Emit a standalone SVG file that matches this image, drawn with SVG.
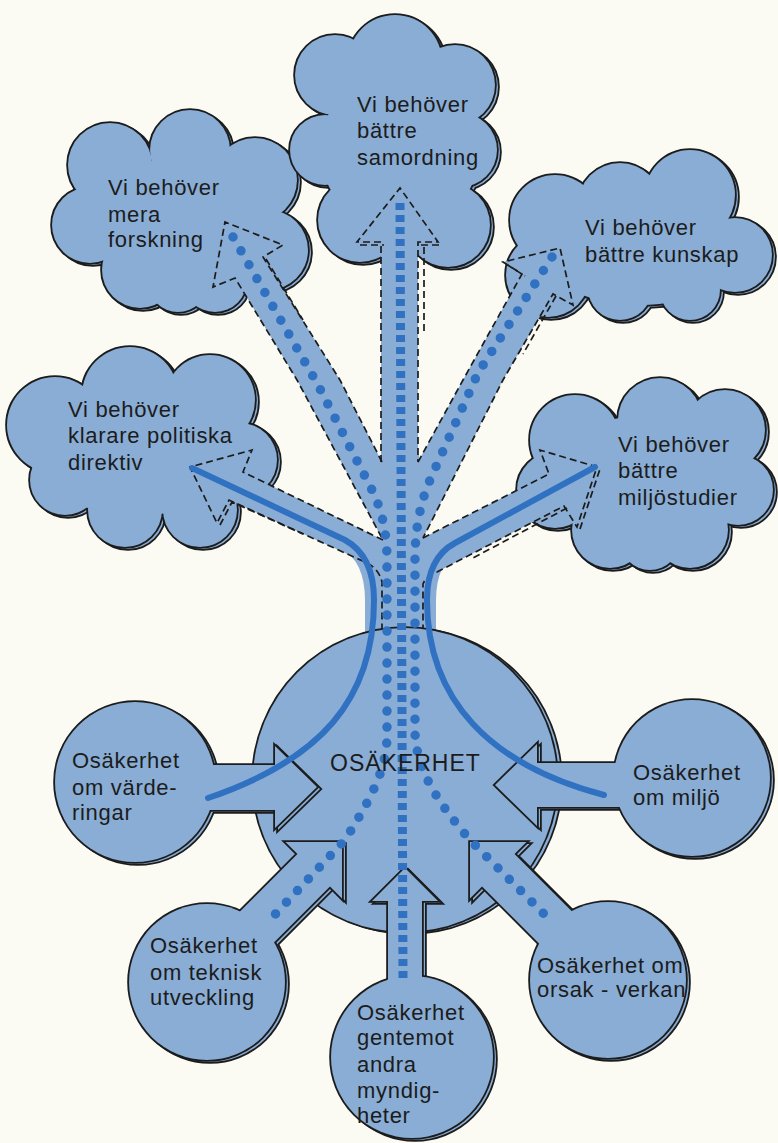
<svg xmlns="http://www.w3.org/2000/svg" width="778" height="1143" viewBox="0 0 778 1143">
<style>
  .ol{fill:#89add5;stroke:#1c1c1c;stroke-width:3.6;stroke-linejoin:miter}
  .fl{fill:#89add5;stroke:none}
  .band{fill:#89add5;stroke:none}
  .dash{fill:none;stroke:#1c1c1c;stroke-width:1.7;stroke-dasharray:7 4}
  .halo{fill:none;stroke:#89add5;stroke-width:18}
  .line{fill:none;stroke:#3171c2;stroke-width:6;stroke-linecap:round}
  .dots{fill:none;stroke:#3171c2;stroke-width:9.5;stroke-linecap:round;stroke-dasharray:0 16}
  .sq{fill:none;stroke:#3171c2;stroke-width:9;stroke-dasharray:7 5}
  text{font-family:"Liberation Sans",Arial,sans-serif;font-size:22px;fill:#1c1c1c;letter-spacing:0.7px}
  .big{font-size:23px;letter-spacing:1px}
</style>
<defs>
  <!-- cloud outlines: unions of lobes -->
  <g id="s-samordning">
    <circle cx="335" cy="75" r="40"/><circle cx="395" cy="62" r="47"/><circle cx="455" cy="85" r="40"/>
    <circle cx="460" cy="150" r="37"/><circle cx="448" cy="225" r="42"/><circle cx="360" cy="220" r="42"/>
    <circle cx="325" cy="150" r="35"/><ellipse cx="400" cy="150" rx="80" ry="80"/>
  </g>
  <g id="s-forskning">
    <circle cx="110" cy="165" r="42"/><circle cx="190" cy="150" r="40"/><circle cx="255" cy="180" r="42"/>
    <circle cx="268" cy="250" r="40"/><circle cx="215" cy="280" r="32"/><circle cx="178" cy="282" r="30"/>
    <circle cx="140" cy="270" r="38"/><circle cx="90" cy="225" r="38"/><ellipse cx="180" cy="220" rx="95" ry="62"/>
  </g>
  <g id="s-kunskap">
    <circle cx="555" cy="220" r="45"/><circle cx="620" cy="205" r="42"/><circle cx="690" cy="195" r="45"/>
    <circle cx="735" cy="255" r="37"/><circle cx="690" cy="290" r="30"/><circle cx="620" cy="288" r="32"/>
    <circle cx="548" cy="275" r="42"/><ellipse cx="640" cy="250" rx="100" ry="55"/>
  </g>
  <g id="s-politiska">
    <circle cx="55" cy="425" r="48"/><circle cx="130" cy="395" r="48"/><circle cx="210" cy="400" r="45"/>
    <circle cx="240" cy="460" r="37"/><circle cx="200" cy="510" r="37"/><circle cx="125" cy="510" r="37"/>
    <circle cx="65" cy="480" r="35"/><ellipse cx="140" cy="455" rx="110" ry="60"/>
  </g>
  <g id="s-miljostudier">
    <circle cx="575" cy="440" r="45"/><circle cx="660" cy="420" r="42"/><circle cx="725" cy="430" r="40"/>
    <circle cx="738" cy="490" r="35"/><circle cx="690" cy="530" r="38"/><circle cx="650" cy="540" r="30"/>
    <circle cx="610" cy="530" r="38"/><circle cx="555" cy="490" r="38"/><ellipse cx="650" cy="475" rx="100" ry="60"/>
  </g>
  <!-- round nodes with their inward arrows -->
  <g id="s-center"><circle cx="405" cy="780" r="152"/></g>
  <g id="s-vard">
    <circle cx="135" cy="782" r="80"/>
    <path d="M317,787 L275,746 L275,765 L170,765 L170,810 L275,810 L275,828 Z"/>
  </g>
  <g id="s-miljo">
    <circle cx="692" cy="778" r="78"/>
    <path d="M495,785 L537,744 L537,763 L650,763 L650,807 L537,807 L537,826 Z"/>
  </g>
  <g id="s-teknisk">
    <circle cx="207" cy="982" r="78"/>
    <path transform="translate(342,842) rotate(-45)" d="M0,0 L-40,-40 L-40,-23 L-150,-23 L-150,23 L-40,23 L-40,40 Z"/>
  </g>
  <g id="s-orsak">
    <circle cx="608" cy="980" r="78"/>
    <path transform="translate(470,842) rotate(-135)" d="M0,0 L-40,-40 L-40,-23 L-150,-23 L-150,23 L-40,23 L-40,40 Z"/>
  </g>
  <g id="s-gentemot">
    <circle cx="412" cy="1057" r="81"/>
    <path transform="translate(405,868) rotate(-90)" d="M0,0 L-33,-33 L-33,-17 L-125,-17 L-125,17 L-33,17 L-33,33 Z"/>
  </g>
</defs>

<rect width="778" height="1143" fill="#fbfaf3"/>

<g id="cloud-forskning">
  <use href="#s-forskning" class="ol" transform="translate(3,2)"/><use href="#s-forskning" class="fl" transform="translate(3,2)"/>
  <use href="#s-forskning" class="ol"/><use href="#s-forskning" class="fl"/>
  <text x="108" y="195">Vi behöver</text><text x="108" y="222">mera</text><text x="108" y="247">forskning</text>
</g>
<g id="cloud-samordning">
  <use href="#s-samordning" class="ol" transform="translate(3,2)"/><use href="#s-samordning" class="fl" transform="translate(3,2)"/>
  <use href="#s-samordning" class="ol"/><use href="#s-samordning" class="fl"/>
  <text x="357" y="112">Vi behöver</text><text x="357" y="138">bättre</text><text x="357" y="165">samordning</text>
</g>
<g id="cloud-kunskap">
  <use href="#s-kunskap" class="ol" transform="translate(3,2)"/><use href="#s-kunskap" class="fl" transform="translate(3,2)"/>
  <use href="#s-kunskap" class="ol"/><use href="#s-kunskap" class="fl"/>
  <text x="585" y="235">Vi behöver</text><text x="585" y="262">bättre kunskap</text>
</g>
<g id="cloud-politiska">
  <use href="#s-politiska" class="ol" transform="translate(3,2)"/><use href="#s-politiska" class="fl" transform="translate(3,2)"/>
  <use href="#s-politiska" class="ol"/><use href="#s-politiska" class="fl"/>
  <text x="68" y="417">Vi behöver</text><text x="68" y="443">klarare politiska</text><text x="68" y="470">direktiv</text>
</g>
<g id="cloud-miljostudier">
  <use href="#s-miljostudier" class="ol" transform="translate(3,2)"/><use href="#s-miljostudier" class="fl" transform="translate(3,2)"/>
  <use href="#s-miljostudier" class="ol"/><use href="#s-miljostudier" class="fl"/>
  <text x="618" y="452">Vi behöver</text><text x="618" y="478">bättre</text><text x="618" y="505">miljöstudier</text>
</g>

<!-- branching arrows: filled bands, halos and dashed outlines -->
<g id="connectors-branches">
  <path class="band" d="M381,470 V242 H357 L400,188 L438,242 H418 V470 Z"/>
  <path class="band" d="M382,462 L340,380 L263,257 L283,245 L225,222 L213,287 L235,278 L297,380 L383,540 L400,520 Z"/>
  <path class="band" d="M418,462 L463,380 L522,274 L503,262 L560,248 L573,305 L553,294 L503,380 L423,538 L400,520 Z"/>
  <path class="band" d="M383,540 L243,472 L252,450 L190,467 L217,523 L229,500 L367,563 Q379,569 382,582 L400,582 L400,535 Z"/>
  <path class="band" d="M423,538 L549,474 L540,450 L597,467 L577,527 L564,506 L437,572 Q426,576 423,584 L400,584 L400,535 Z"/>
  <!-- junction where the five branches meet the trunk -->
  <path class="band" d="M381,455 H419 L423,538 L437,572 L423,584 V634 H382 V582 L367,563 L383,540 Z"/>
  <path class="halo" d="M192,468 L345,540 Q374,556 374,600 V634"/>
  <path class="halo" d="M595,467 L455,543 Q427,558 427,600 V634"/>
  <path class="dash" d="M381,462 V242 H357 L400,188 L438,242 H418 V462"/>
  <path class="dash" d="M382,462 L340,380 L263,257 L283,245 L225,222 L213,287 L235,278 L297,380 L383,540"/>
  <path class="dash" d="M418,462 L463,380 L522,274 L503,262 L560,248 L573,305 L553,294 L503,380 L423,538"/>
  <path class="dash" d="M383,540 L243,472 L252,450 L190,467 L217,523 L229,500 L367,563 Q379,569 382,582 V630"/>
  <path class="dash" d="M423,538 L549,474 L540,450 L597,467 L577,527 L564,506 L437,572 Q426,576 423,584 V630"/>
  <g transform="translate(3,2)">
    <path class="dash" d="M263,257 L300,318"/>
    <path class="dash" d="M357,243 H381 M418,243 H438 M421,245 V330"/>
    <path class="dash" d="M553,294 L520,352 M503,262 L522,274"/>
    <path class="dash" d="M217,523 L229,500 L300,532"/>
    <path class="dash" d="M577,527 L597,467 M564,506 L470,556"/>
  </g>
</g>

<g id="node-osakerhet">
  <use href="#s-center" class="ol" transform="translate(4,1)"/><use href="#s-center" class="fl" transform="translate(4,1)"/>
  <use href="#s-center" class="ol"/><use href="#s-center" class="fl"/>
</g>
<g id="node-varderingar">
  <use href="#s-vard" class="ol" transform="translate(3,2)"/><use href="#s-vard" class="fl" transform="translate(3,2)"/>
  <use href="#s-vard" class="ol"/><use href="#s-vard" class="fl"/>
  <text x="72" y="768">Osäkerhet</text><text x="72" y="795">om värde-</text><text x="72" y="820">ringar</text>
</g>
<g id="node-miljo">
  <use href="#s-miljo" class="ol" transform="translate(3,2)"/><use href="#s-miljo" class="fl" transform="translate(3,2)"/>
  <use href="#s-miljo" class="ol"/><use href="#s-miljo" class="fl"/>
  <text x="633" y="780">Osäkerhet</text><text x="633" y="805">om miljö</text>
</g>
<g id="node-teknisk">
  <use href="#s-teknisk" class="ol" transform="translate(3,2)"/><use href="#s-teknisk" class="fl" transform="translate(3,2)"/>
  <use href="#s-teknisk" class="ol"/><use href="#s-teknisk" class="fl"/>
  <text x="150" y="953">Osäkerhet</text><text x="150" y="980">om teknisk</text><text x="150" y="1005">utveckling</text>
</g>
<g id="node-orsak">
  <use href="#s-orsak" class="ol" transform="translate(3,2)"/><use href="#s-orsak" class="fl" transform="translate(3,2)"/>
  <use href="#s-orsak" class="ol"/><use href="#s-orsak" class="fl"/>
  <text x="537" y="973">Osäkerhet om</text><text x="537" y="997">orsak - verkan</text>
</g>
<g id="node-gentemot">
  <use href="#s-gentemot" class="ol" transform="translate(3,2)"/><use href="#s-gentemot" class="fl" transform="translate(3,2)"/>
  <use href="#s-gentemot" class="ol"/><use href="#s-gentemot" class="fl"/>
  <text x="357" y="1020">Osäkerhet</text><text x="357" y="1045">gentemot</text><text x="357" y="1072">andra</text>
  <text x="357" y="1098">myndig-</text><text x="357" y="1123">heter</text>
</g>

<!-- flow lines running through the centre -->
<g id="connectors-flows">
  <path class="line" d="M192,468 L345,540 Q374,556 374,600 C374,700 320,760 208,798"/>
  <path class="line" d="M595,467 L455,543 Q427,558 427,600 C427,700 490,765 604,795"/>
  <path class="sq" d="M400,203 L403,978"/>
  <path class="dots" d="M233,237 L318,385 L372,490 Q387,520 387,560 L387,735 C387,770 370,800 345,840 L266,924"/>
  <path class="dots" d="M552,257 L478,373 L430,480 Q415,515 415,560 L415,730 C415,770 440,805 470,840 L552,922"/>
</g>

<g id="label-osakerhet">
  <text class="big" x="330" y="771">OSÄKERHET</text>
</g>
</svg>
